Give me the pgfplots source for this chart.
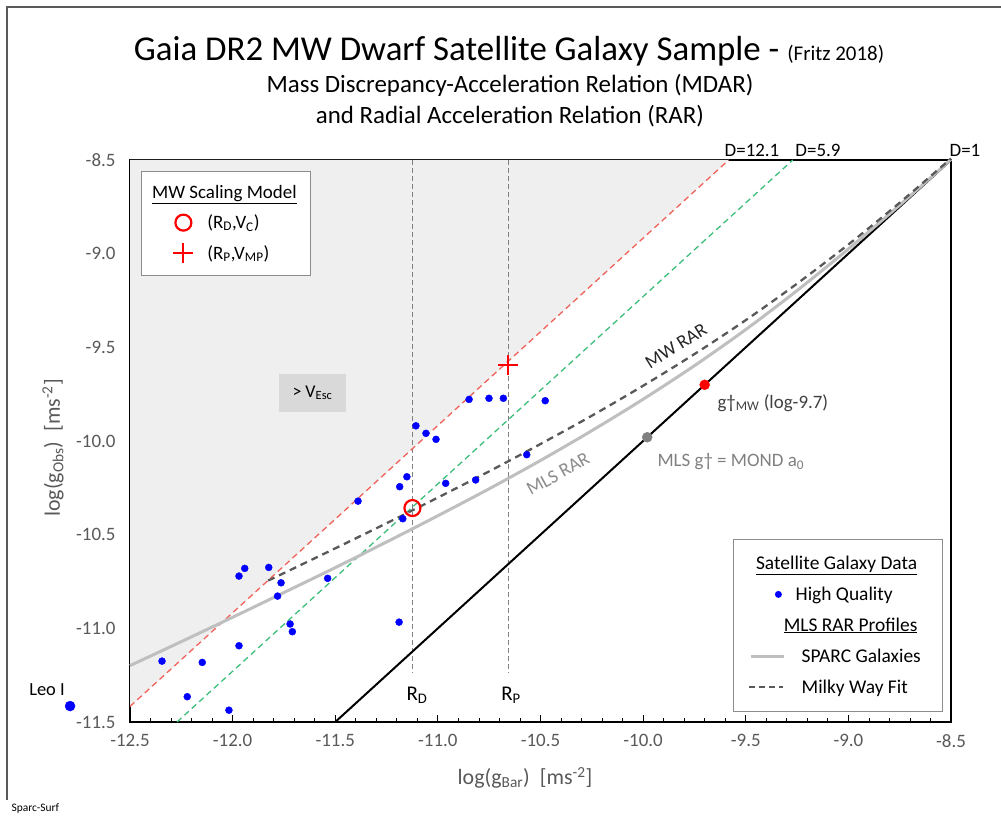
\documentclass[border=0pt]{standalone}
\usepackage{pgfplots}
\pgfplotsset{compat=1.18}
\usepackage{fontspec}
\setmainfont{Carlito}
\definecolor{tickgray}{HTML}{595959}
\definecolor{shade}{HTML}{EFEFEF}
\definecolor{vesc}{HTML}{D9D9D9}
\definecolor{dred}{HTML}{F0625A}
\definecolor{dgreen}{HTML}{3DBE7A}
\definecolor{mls}{HTML}{BFBFBF}
\definecolor{mw}{HTML}{595959}
\definecolor{ptblue}{HTML}{0000FF}
\newcommand{\fs}[1]{\fontsize{#1}{#1}\selectfont}
\pgfplotsset{
 imgmark/.style={legend image code/.code={\draw[##1] plot coordinates {(28bp,0bp)}; \path[draw=none] (0bp,0bp) -- (36bp,0bp);}},
 imgdot/.style={legend image code/.code={\fill[ptblue,draw=none] (29bp,0bp) circle (3.5bp); \path[draw=none] (0bp,0bp) -- (36bp,0bp);}},
 imgsparc/.style={legend image code/.code={\draw[mls,line width=2.5bp] (2bp,0bp) -- (35bp,0bp); \path[draw=none] (0bp,0bp) -- (36bp,0bp);}},
 imgmw/.style={legend image code/.code={\draw[mw,line width=2bp,dash pattern=on 6bp off 4bp] (0bp,0bp) -- (34bp,0bp); \path[draw=none] (0bp,0bp) -- (36bp,0bp);}},
 common/.style={at={(130bp,96bp)}, anchor=south west, scale only axis, width=821bp, height=562bp,
   xmin=-12.5, xmax=-8.5, ymin=-11.5, ymax=-8.5, clip=false},
}
\begin{document}
\begin{tikzpicture}
\path[use as bounding box] (0,0) rectangle (1001bp,818bp);
\fill[white] (0,0) rectangle (1001bp,818bp);
\draw[line width=1.5bp, color=black!65] (7bp,18bp) -- (7bp,811bp) -- (1001bp,811bp);
\node[anchor=west, font=\fs{11.5}] at (8bp,10bp) {Sparc-Surf};
% titles
\node[anchor=base] at (509bp,757bp) {{\fs{35}Gaia DR2 MW Dwarf Satellite Galaxy Sample - }{\fs{21}(Fritz 2018)}};
\node[font=\fs{25}] at (510bp,733bp) {Mass Discrepancy-Acceleration Relation (MDAR)};
\node[font=\fs{25}] at (510bp,702bp) {and Radial Acceleration Relation (RAR)};
% axis labels
\node[font=\fs{22}, text=tickgray] at (525bp,40bp) {log(g\textsubscript{Bar})\ \ [ms\textsuperscript{-2}]};
\node[font=\fs{22}, text=tickgray, rotate=90] at (53bp,370bp) {log(g\textsubscript{Obs})\ \ [ms\textsuperscript{-2}]};
\begin{axis}[common,
 xtick={-12.5,-12,-11.5,-11,-10.5,-10,-9.5,-9,-8.5},
 ytick={-11.5,-11,-10.5,-10,-9.5,-9,-8.5},
 xticklabels={-12.5,-12.0,-11.5,-11.0,-10.5,-10.0,-9.5,-9.0,-8.5},
 yticklabels={-11.5,-11.0,-10.5,-10.0,-9.5,-9.0,-8.5},
 minor x tick num=4, minor y tick num=4,
 xtick pos=bottom, ytick pos=left, tick align=inside,
 major tick length=7bp, minor tick length=4bp,
 tick style={black, line width=0.8bp},
 ticklabel style={font=\fs{19}, text=tickgray},
 xticklabel style={yshift=-9bp}, yticklabel style={xshift=-11bp},
 axis line style={black, line width=1.2bp},
 legend style={at={(0.9903,0.0178)}, anchor=south east, draw=black!45, line width=0.8bp, fill=white,
   inner xsep=15bp, inner ysep=15bp, row sep=12.5bp, column sep=14bp, font=\fs{19.5},
   cells={anchor=west, inner sep=0pt, text height=13bp, text depth=4bp}},
]
\addplot[fill=shade, draw=none, forget plot] coordinates {(-12.5,-11.417) (-9.583,-8.5) (-12.5,-8.5)} -- cycle;
\addplot[gray, line width=1bp, dash pattern=on 5bp off 3bp, forget plot] coordinates {(-11.124,-8.5) (-11.124,-11.234)};
\addplot[gray, line width=1bp, dash pattern=on 5bp off 3bp, forget plot] coordinates {(-10.656,-8.5) (-10.656,-11.234)};
\addplot[dred, line width=1.3bp, dash pattern=on 6bp off 4bp, forget plot] coordinates {(-12.5,-11.417) (-9.583,-8.5)};
\addplot[dgreen, line width=1.3bp, dash pattern=on 6bp off 4bp, forget plot] coordinates {(-12.271,-11.5) (-9.271,-8.5)};
\addplot[black, line width=2bp, forget plot] coordinates {(-11.5,-11.5) (-8.5,-8.5)};
\addplot[mls, line width=3bp, smooth, forget plot] coordinates {
(-12.5,-11.199)(-12.25,-11.071)(-12.0,-10.941)(-11.75,-10.809)(-11.5,-10.676)(-11.25,-10.539)(-11.0,-10.399)(-10.75,-10.255)(-10.5,-10.104)(-10.25,-9.945)(-10.0,-9.777)(-9.75,-9.598)(-9.5,-9.405)(-9.25,-9.197)(-9.0,-8.975)(-8.75,-8.741)(-8.5,-8.497)};
\addplot[mw, line width=2.3bp, dash pattern=on 7bp off 5bp, smooth, forget plot] coordinates {
(-11.827,-10.745)(-11.75,-10.705)(-11.5,-10.573)(-11.25,-10.439)(-11.0,-10.302)(-10.75,-10.162)(-10.5,-10.016)(-10.25,-9.865)(-10.0,-9.705)(-9.75,-9.536)(-9.5,-9.355)(-9.25,-9.160)(-9.0,-8.951)(-8.75,-8.728)(-8.5,-8.492)};
\addplot[only marks, mark=*, mark size=3.5bp, ptblue, forget plot] coordinates {
(-12.344,-11.175)(-12.221,-11.365)(-12.148,-11.182)(-12.018,-11.437)(-11.969,-11.093)(-11.969,-10.721)
(-11.941,-10.680)(-11.824,-10.675)(-11.764,-10.757)(-11.781,-10.828)(-11.720,-10.977)(-11.709,-11.018)
(-11.537,-10.733)(-11.389,-10.321)(-11.189,-10.967)(-11.186,-10.244)(-11.151,-10.191)(-11.171,-10.415)
(-11.107,-9.919)(-11.058,-9.959)(-11.009,-9.991)(-10.962,-10.226)(-10.816,-10.208)(-10.848,-9.778)
(-10.751,-9.772)(-10.681,-9.772)(-10.477,-9.785)(-10.567,-10.073)};
\addplot[only marks, mark=*, mark size=5bp, ptblue, forget plot] coordinates {(-12.792,-11.415)};
\addplot[only marks, mark=*, mark size=5bp, red, forget plot] coordinates {(-9.70,-9.70)};
\addplot[only marks, mark=*, mark size=5bp, black!50, forget plot] coordinates {(-9.98,-9.98)};
\addlegendimage{empty legend}\addlegendentry{\makebox[70bp][c]{\underline{Satellite Galaxy Data}}}
\addlegendimage{imgdot}\addlegendentry{\hspace*{-6bp}\makebox[130bp][l]{High Quality}}
\addlegendimage{empty legend}\addlegendentry{\makebox[98bp][c]{\underline{MLS RAR Profiles}}}
\addlegendimage{imgsparc}\addlegendentry{\makebox[124bp][l]{SPARC Galaxies}}
\addlegendimage{imgmw}\addlegendentry{\makebox[124bp][l]{Milky Way Fit}}
\end{axis}
% annotations
\node[fill=vesc, minimum width=67bp, minimum height=38bp, font=\fs{18}] at (312.5bp,425bp) {> V\textsubscript{Esc}};
\node[font=\fs{18.5}] at (47bp,128bp) {Leo I};
\node[font=\fs{19}] at (752bp,668bp) {D=12.1};
\node[font=\fs{19}] at (818bp,668bp) {D=5.9};
\node[font=\fs{19}] at (965bp,668bp) {D=1};
\node[font=\fs{21}] at (417bp,123bp) {R\textsubscript{D}};
\node[font=\fs{21}] at (511bp,123bp) {R\textsubscript{P}};
\node[font=\fs{19}, text=black!85, rotate=32] at (676bp,472bp) {MW RAR};
\node[font=\fs{19}, text=black!45, rotate=29] at (558bp,344bp) {MLS RAR};
\node[font=\fs{19}, text=black!75, anchor=west] at (714bp,415bp) {g\textdagger\textsubscript{MW} (log-9.7)};
\node[font=\fs{19}, text=black!50, anchor=west] at (654bp,356bp) {MLS g\textdagger\ = MOND a\textsubscript{0}};
\begin{axis}[common, hide axis,
 legend style={at={(0.0134,0.9804)}, anchor=north west, draw=black!45, line width=0.8bp, fill=white,
   inner xsep=14bp, inner ysep=12bp, row sep=11.5bp, column sep=12bp, font=\fs{19},
   cells={anchor=west, inner sep=0pt, text height=13bp, text depth=4bp}},
]
\addlegendimage{empty legend}\addlegendentry{\makebox[34bp][c]{\underline{MW Scaling Model}}}
\addplot[only marks, mark=o, red, mark size=8bp, line width=2.2bp, mark options={fill=white}, imgmark] coordinates {(-11.124,-10.358)};
\addlegendentry{\makebox[87bp][l]{(R\textsubscript{D},V\textsubscript{C})}}
\addplot[only marks, mark=+, red, mark size=10bp, line width=2bp, imgmark] coordinates {(-10.656,-9.594)};
\addlegendentry{\makebox[87bp][l]{(R\textsubscript{P},V\textsubscript{MP})}}
\end{axis}
\end{tikzpicture}
\end{document}
